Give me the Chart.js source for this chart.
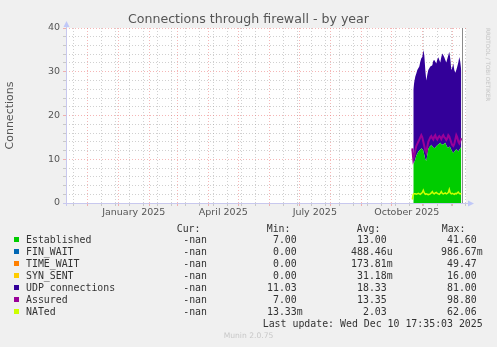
<!DOCTYPE html>
<html>
<head>
<meta charset="utf-8">
<script src="https://cdn.jsdelivr.net/npm/chart.js@4.4.1/dist/chart.umd.min.js"></script>
<style>
body { margin: 0; background: #f0f0f0; }
#wrap { position: relative; width: 497px; height: 347px; overflow: hidden; font-family: "DejaVu Sans", sans-serif; color: #444; }
#chart { position: absolute; left: 0; top: 0; }
.t { position: absolute; white-space: pre; }
.mono { font-family: "DejaVu Sans Mono", monospace; font-size: 9.9px; line-height: 13px; color: #333; }
.box { position: absolute; width: 5px; height: 5px; }
</style>
</head>
<body>
<div id="wrap">
  <canvas id="chart" width="497" height="347"></canvas>
  <div class="t" style="left:0; width:497px; text-align:center; top:12px; font-size:12.6px; line-height:14px; color:#555;">Connections through firewall - by year</div>
  <div class="t" style="left:492px; top:28px; font-size:5.7px; line-height:8px; color:#c4c4c4; transform:rotate(90deg); transform-origin:0 0;">RRDTOOL / TOBI OETIKER</div>
  <div id="legend"></div>
  <div class="t" style="left:0; width:497px; text-align:center; top:331px; font-size:7.6px; line-height:10px; color:#c8c8c8;">Munin 2.0.75</div>
</div>
<script>
// 날짜 (하루 단위 샘플)
var dates = [
  '2025-10-22','2025-10-23','2025-10-24','2025-10-25','2025-10-26','2025-10-27','2025-10-28','2025-10-29','2025-10-30','2025-10-31',
  '2025-11-01','2025-11-02','2025-11-03','2025-11-04','2025-11-05','2025-11-06','2025-11-07','2025-11-08','2025-11-09','2025-11-10',
  '2025-11-11','2025-11-12','2025-11-13','2025-11-14','2025-11-15','2025-11-16','2025-11-17','2025-11-18','2025-11-19','2025-11-20',
  '2025-11-21','2025-11-22','2025-11-23','2025-11-24','2025-11-25','2025-11-26','2025-11-27','2025-11-28','2025-11-29','2025-11-30',
  '2025-12-01','2025-12-02','2025-12-03','2025-12-04','2025-12-05','2025-12-06','2025-12-07','2025-12-08','2025-12-09','2025-12-10'
];
var established = [null,
  9.0, 9.3, 10.0, 10.8, 11.3, 11.7, 12.0, 12.2, 12.5, 12.3,
  12.0, 11.0, 10.0, 9.6, 11.0, 12.3, 12.8, 13.0, 13.3, 13.0,
  12.7, 12.5, 12.7, 13.0, 13.2, 13.4, 13.6, 13.8, 13.5, 13.3,
  13.4, 13.6, 13.8, 13.2, 12.8, 12.6, 12.9, 12.7, 12.2, 11.8,
  11.4, 11.8, 12.0, 12.3, 12.0, 11.8, 12.2, 12.5, 12.8];
var finWait = [null, 0,0,0,0,0,0,0,0,0,0, 0,0,0,0,0,0,0,0,0,0, 0,0,0,0,0,0,0,0,0,0, 0,0,0,0,0,0,0,0,0,0, 0,0,0,0,0,0,0,0,0];
var timeWait = [null, 0,0,0,0,0,0,0,0,0,0, 0,0,0,0,0,0,0,0,0,0, 0,0,0,0,0,0,0,0,0,0, 0,0,0,0,0,0,0,0,0,0, 0,0,0,0,0,0,0,0,0];
var synSent = [null, 0,0,0,0,0,0,0,0,0,0, 0,0,0,0,0,0,0,0,0,0, 0,0,0,0,0,0,0,0,0,0, 0,0,0,0,0,0,0,0,0,0, 0,0,0,0,0,0,0,0,0];
var udp = [null,
  17.0, 18.4, 18.9, 18.8, 19.1, 19.1, 19.2, 20.1, 20.6, 21.1,
  23.0, 22.8, 20.4, 18.4, 18.3, 18.1, 18.0, 18.2, 18.0, 18.5,
  19.8, 20.2, 19.6, 18.9, 19.6, 19.9, 19.1, 18.3, 19.9, 20.9,
  20.4, 19.7, 18.9, 18.9, 20.2, 21.2, 21.7, 20.3, 18.2, 19.2,
  20.5, 18.6, 17.8, 18.1, 19.2, 20.3, 21.2, 19.8, 17.4];
var assured = [12.5,
  10.0, 10.8, 12.0, 13.0, 13.5, 14.0, 14.5, 15.0, 15.5, 15.0,
  14.0, 13.0, 12.0, 11.5, 12.8, 14.0, 14.5, 15.0, 15.3, 14.8,
  14.5, 15.2, 15.5, 14.8, 14.5, 15.0, 15.3, 15.0, 14.6, 15.2,
  15.5, 15.0, 14.8, 14.4, 14.8, 15.5, 15.2, 14.5, 13.8, 13.2,
  13.0, 13.5, 14.5, 15.5, 15.0, 14.0, 13.6, 14.2, 14.8];
var nated = [0.8,
  2.0, 2.1, 2.1, 2.0, 2.1, 2.2, 2.1, 2.0, 2.2, 2.4,
  2.9, 2.3, 2.0, 2.1, 2.0, 1.9, 2.0, 2.1, 2.3, 2.6,
  2.2, 2.1, 2.3, 2.4, 2.2, 2.1, 2.0, 2.2, 2.6, 2.2,
  2.1, 2.2, 2.3, 2.1, 2.2, 2.4, 3.1, 2.3, 2.1, 2.2,
  2.1, 2.0, 2.2, 2.1, 2.3, 2.5, 2.2, 2.1, 2.2];

// 범례 표
var seriesNames = ['Established', 'FIN_WAIT', 'TIME_WAIT', 'SYN_SENT', 'UDP connections', 'Assured', 'NATed'];
var curValues = ['-nan', '-nan', '-nan', '-nan', '-nan', '-nan', '-nan'];
var minValues = ['7.00 ', '0.00 ', '0.00 ', '0.00 ', '11.03 ', '7.00 ', '13.33m'];
var avgValues = ['13.00 ', '488.46u', '173.81m', '31.18m', '18.33 ', '13.35 ', '2.03 '];
var maxValues = ['41.60 ', '986.67m', '49.47 ', '16.00 ', '81.00 ', '98.80 ', '62.06 '];
var lastUpdate = 'Last update: Wed Dec 10 17:35:03 2025';

// x 축 눈금
var xStart = '2024-11-10';
var xEnd = '2025-12-14';
var monthStarts = ['2024-12-01','2025-01-01','2025-02-01','2025-03-01','2025-04-01','2025-05-01','2025-06-01',
  '2025-07-01','2025-08-01','2025-09-01','2025-10-01','2025-11-01','2025-12-01'];
var weekLines = ['2024-11-17','2024-12-15','2024-12-29','2025-01-12','2025-01-26','2025-02-09','2025-02-23',
  '2025-03-09','2025-03-23','2025-04-06','2025-04-20','2025-05-04','2025-05-18','2025-06-01','2025-06-15',
  '2025-06-29','2025-07-13','2025-07-27','2025-08-10','2025-08-24','2025-09-07','2025-09-21','2025-10-05',
  '2025-10-19','2025-11-02','2025-11-16','2025-11-30','2025-12-14'];
var labelMonths = [['2025-01-01','2025-02-01'], ['2025-04-01','2025-05-01'], ['2025-07-01','2025-08-01'], ['2025-10-01','2025-11-01']];
var xLabels = ['January 2025', 'April 2025', 'July 2025', 'October 2025'];
var yTicks = [0, 10, 20, 30, 40];

var colors = ['#00cc00', '#0066b3', '#ff8000', '#ffcc00', '#330099', '#990099', '#ccff00'];

function day(s) {
  return (Date.parse(s) - Date.parse('2025-01-01')) / 86400000;
}
var days = dates.map(day);
function pts(vals) {
  return days.map(function(d, i) { return { x: d, y: vals[i] }; });
}

var majorX = monthStarts.map(day);
var minorX = weekLines.map(day);
var labelAt = {};
labelMonths.forEach(function(m, i) {
  labelAt[(day(m[0]) + day(m[1])) / 2] = xLabels[i];
});
var xTickValues = majorX.concat(minorX).concat(Object.keys(labelAt).map(Number))
  .filter(function(v, i, a) { return a.indexOf(v) === i; })
  .sort(function(a, b) { return a - b; });

var gridGrey = 'rgba(150,150,150,0.45)';
var gridRed = 'rgba(235,110,110,0.5)';

// 배경, 축, 화살표
var frame = {
  id: 'frame',
  beforeDraw: function(chart) {
    var c = chart.ctx, a = chart.chartArea;
    c.save();
    c.fillStyle = '#ffffff';
    c.fillRect(a.left, a.top, a.right - a.left, a.bottom - a.top);
    c.restore();
  },
  afterDraw: function(chart) {
    var c = chart.ctx, a = chart.chartArea;
    var nowX = Math.round(chart.scales.x.getPixelForValue(day('2025-12-10') + 0.73)) + 0.5;
    c.save();
    c.strokeStyle = '#8a8a8a';
    c.lineWidth = 1;
    c.beginPath(); c.moveTo(nowX, a.top); c.lineTo(nowX, a.bottom); c.stroke();
    c.strokeStyle = '#c8c8ee';
    c.beginPath();
    c.moveTo(a.left - 3, a.bottom + 0.5); c.lineTo(a.right + 3, a.bottom + 0.5);
    c.moveTo(a.left + 0.5, a.bottom + 3); c.lineTo(a.left + 0.5, a.top - 3);
    c.stroke();
    c.fillStyle = '#c0c8f8';
    c.beginPath();
    c.moveTo(a.right + 8, a.bottom + 0.5); c.lineTo(a.right + 2, a.bottom - 2.5); c.lineTo(a.right + 2, a.bottom + 3.5);
    c.closePath(); c.fill();
    c.beginPath();
    c.moveTo(a.left + 0.5, a.top - 7); c.lineTo(a.left - 2.5, a.top - 1); c.lineTo(a.left + 3.5, a.top - 1);
    c.closePath(); c.fill();
    c.restore();
  }
};

var ctx = document.getElementById('chart').getContext('2d');
var chart = new Chart(ctx, {
  type: 'line',
  data: {
    datasets: [
      { label: seriesNames[0], data: pts(established), stack: 'conn', order: 10, fill: 'origin', backgroundColor: colors[0], borderWidth: 0 },
      { label: seriesNames[1], data: pts(finWait), stack: 'conn', order: 11, fill: '-1', backgroundColor: colors[1], borderWidth: 0 },
      { label: seriesNames[2], data: pts(timeWait), stack: 'conn', order: 12, fill: '-1', backgroundColor: colors[2], borderWidth: 0 },
      { label: seriesNames[3], data: pts(synSent), stack: 'conn', order: 13, fill: '-1', backgroundColor: colors[3], borderWidth: 0 },
      { label: seriesNames[4], data: pts(udp), stack: 'conn', order: 14, fill: '-1', backgroundColor: colors[4], borderWidth: 0 },
      { label: seriesNames[5], data: pts(assured), stack: 'a', order: 1, fill: false, borderColor: colors[5], borderWidth: 2 },
      { label: seriesNames[6], data: pts(nated), stack: 'n', order: 0, fill: false, borderColor: colors[6], borderWidth: 1.5 }
    ]
  },
  options: {
    responsive: false,
    animation: false,
    events: [],
    layout: { padding: { left: 0, right: 31, top: 28, bottom: 0 } },
    elements: { point: { radius: 0 }, line: { tension: 0 } },
    plugins: { legend: { display: false }, tooltip: { enabled: false } },
    scales: {
      x: {
        type: 'linear',
        min: day(xStart) - 0.3,
        max: day(xEnd) + 0.7,
        afterFit: function(s) { s.height = 144; },
        afterBuildTicks: function(s) {
          s.ticks = xTickValues.map(function(v) { return { value: v }; });
        },
        border: { display: false, dash: [1, 2] },
        grid: {
          lineWidth: 1,
          tickLength: 3,
          color: function(c) {
            var v = c.tick && c.tick.value;
            if (majorX.indexOf(v) >= 0) return gridRed;
            if (minorX.indexOf(v) >= 0) return gridGrey;
            return 'rgba(0,0,0,0)';
          }
        },
        ticks: {
          autoSkip: false,
          maxRotation: 0,
          padding: 1,
          color: '#555',
          font: { family: 'DejaVu Sans', size: 9.5 },
          callback: function(v) { return labelAt[v] || ''; }
        }
      },
      y: {
        stacked: true,
        min: 0,
        max: 40,
        afterFit: function(s) { s.width = 66; },
        border: { display: false, dash: [1, 2] },
        grid: {
          lineWidth: 1,
          tickLength: 3,
          color: function(c) {
            return yTicks.indexOf(c.tick.value) >= 0 ? gridRed : gridGrey;
          }
        },
        ticks: {
          stepSize: 2,
          autoSkip: false,
          padding: 3,
          color: '#555',
          font: { family: 'DejaVu Sans', size: 9.5 },
          callback: function(v) { return yTicks.indexOf(v) >= 0 ? String(v) : ''; }
        },
        title: {
          display: true,
          text: 'Connections',
          color: '#555',
          font: { family: 'DejaVu Sans', size: 11 },
          padding: { top: 4, bottom: 0 }
        }
      }
    }
  },
  plugins: [frame]
});

// 범례 (HTML 텍스트)
var legend = document.getElementById('legend');
function put(text, x, cy, right) {
  var d = document.createElement('div');
  d.className = 't mono';
  d.textContent = text;
  d.style.top = (cy - 6.5) + 'px';
  if (right) d.style.right = (497 - x) + 'px'; else d.style.left = x + 'px';
  legend.appendChild(d);
}
put('Cur:', 176.7, 228);
put('Min:', 266.7, 228);
put('Avg:', 356.7, 228);
put('Max:', 441.7, 228);
seriesNames.forEach(function(name, i) {
  var cy = 239.7 + 12 * i;
  var b = document.createElement('div');
  b.className = 'box';
  b.style.left = '14px';
  b.style.top = Math.round(cy - 2.5) + 'px';
  b.style.background = colors[i];
  legend.appendChild(b);
  put(name, 26, cy);
  put(curValues[i], 207, cy, true);
  put(minValues[i], 302.7, cy, true);
  put(avgValues[i], 392.7, cy, true);
  put(maxValues[i], 482.7, cy, true);
});
put(lastUpdate, 482.7, 323.7, true);
</script>
</body>
</html>
